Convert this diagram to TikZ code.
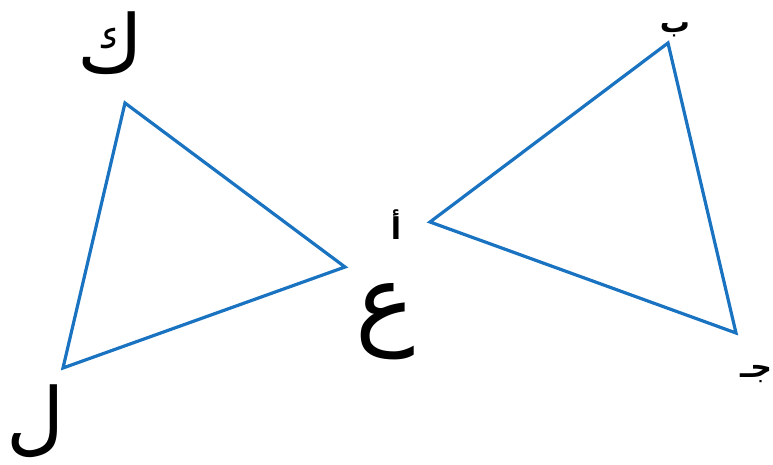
\documentclass[tikz,border=0pt]{standalone}
\usepackage{fontspec}
\TeXXeTstate=1
\newfontfamily\arabicfont[Script=Arabic]{DejaVu Sans}
\newfontfamily\arabicbold[Script=Arabic]{DejaVu Sans Bold}
\definecolor{triblue}{RGB}{25,115,192}
\tikzset{
  tri/.style={draw=triblue, line width=3.2pt, line join=miter},
  biglbl/.style={font=\arabicfont\fontsize{80}{80}\selectfont, inner sep=0pt},
  smalllbl/.style={font=\arabicbold\fontsize{30}{32}\selectfont, inner sep=0pt}
}
\begin{document}
\begin{tikzpicture}[x=1pt,y=-1pt]
\useasboundingbox (0,0) rectangle (773,465);
% left triangle
\coordinate (K) at (125,103);
\coordinate (E) at (345,267);
\coordinate (L) at (63,368);
\draw[tri] (K) -- (E) -- (L) -- cycle;
% right triangle
\coordinate (B) at (668,43);
\coordinate (A) at (430,222);
\coordinate (J) at (736,333);
\draw[tri] (B) -- (A) -- (J) -- cycle;
% labels
\node[biglbl] (lK) at (110,43) {\beginR ك\endR};
\node[biglbl, font=\arabicfont\fontsize{100}{100}\selectfont] (lE) at (385,322) {\beginR ع\endR};
\node[biglbl] (lL) at (36,421) {\beginR ل\endR};
\node[smalllbl] (lB) at (675,30) {\beginR ب\endR};
\node[smalllbl] (lA) at (396,225) {\beginR أ\endR};
\node[smalllbl] (lJ) at (756,374) {\beginR جـ\endR};
\end{tikzpicture}
\end{document}
